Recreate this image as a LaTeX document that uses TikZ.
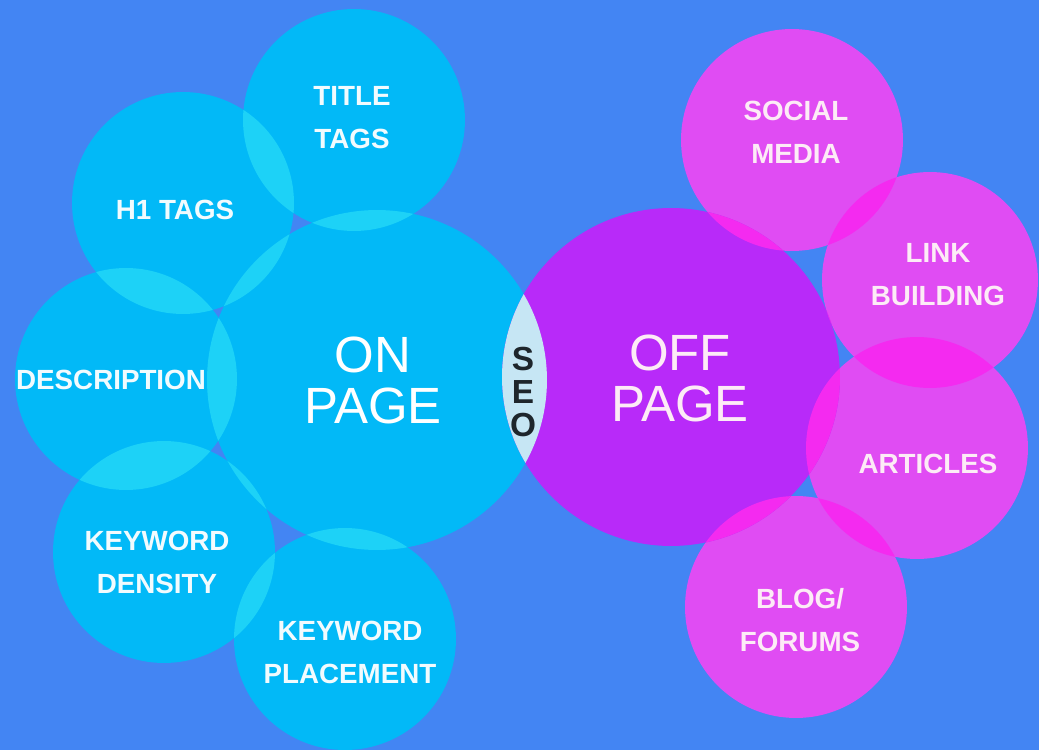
\documentclass[tikz,border=0pt]{standalone}
\usepackage{fontspec}
\setmainfont{Liberation Sans}
\definecolor{bgblue}{HTML}{4385F3}
\definecolor{oncyan}{HTML}{02B9F7}
\definecolor{onlens}{HTML}{1DD2F7}
\definecolor{seolens}{HTML}{C6E6F4}
\definecolor{offviolet}{HTML}{B82AF9}
\definecolor{offpink}{HTML}{E04CF3}
\definecolor{offlens}{HTML}{F42AF0}
\definecolor{seotext}{HTML}{1E262C}

\begin{document}
\begin{tikzpicture}[x=0.02cm, y=-0.02cm,
    tag/.style = {align=center, inner sep=0mm, text=white!95!cyan, font=\bfseries\fontsize{15.8}{24.5}\selectfont},
    offtag/.style = {tag, text=white!92!magenta},
    side/.style = {align=center, inner sep=0mm, text=white, font=\fontsize{29}{29}\selectfont}]
\useasboundingbox (0,0) rectangle (1039,750);
\fill[bgblue] (0,0) rectangle (1039,750);

% bubble centres
\foreach \n/\x/\y in {ttl/354/120, hone/183/203, desc/126/379, kden/164/552, kplc/345/639, onp/377/380}
    \coordinate (\n) at (\x,\y);
\foreach \n/\x/\y in {soc/792/140, link/930/280, art/917/448, blog/796/607, offp/671/377}
    \coordinate (\n) at (\x,\y);

% on page side
\foreach \n in {ttl, hone, desc, kden, kplc}
    \fill[oncyan] (\n) circle [radius=2.22cm];
\fill[oncyan] (onp) circle [radius=3.4cm];
\foreach \a/\ra/\b/\rb in {ttl/2.22cm/hone/2.22cm, hone/2.22cm/desc/2.22cm, desc/2.22cm/kden/2.22cm, kden/2.22cm/kplc/2.22cm,
                           ttl/2.22cm/onp/3.4cm, hone/2.22cm/onp/3.4cm, desc/2.22cm/onp/3.4cm, kden/2.22cm/onp/3.4cm, kplc/2.22cm/onp/3.4cm}
{
    \begin{scope}
        \clip (\a) circle [radius=\ra];
        \fill[onlens] (\b) circle [radius=\rb];
    \end{scope}
}

% off page side
\foreach \n in {soc, art, blog}
    \fill[offpink] (\n) circle [radius=2.22cm];
\fill[offpink] (link) circle [radius=2.16cm];
\fill[offviolet] (offp) circle [radius=3.38cm];
\foreach \a/\ra/\b/\rb in {soc/2.22cm/link/2.16cm, link/2.16cm/art/2.22cm, art/2.22cm/blog/2.22cm,
                           soc/2.22cm/offp/3.38cm, link/2.16cm/offp/3.38cm, art/2.22cm/offp/3.38cm, blog/2.22cm/offp/3.38cm}
{
    \begin{scope}
        \clip (\a) circle [radius=\ra];
        \fill[offlens] (\b) circle [radius=\rb];
    \end{scope}
}

% where the two sides meet
\begin{scope}
    \clip (onp) circle [radius=3.4cm];
    \fill[seolens] (offp) circle [radius=3.38cm];
\end{scope}

% labels
\node[tag] (ttltext) at (352,118) {TITLE\\TAGS};
\node[tag] (honetext) at (175,210) {H1 TAGS};
\node[tag] (desctext) at (111,380) {DESCRIPTION};
\node[tag] (kdentext) at (157,562) {KEYWORD\\DENSITY};
\node[tag] (kplctext) at (350,652) {KEYWORD\\PLACEMENT};
\node[side] (onptext) at (373,380) {ON\\PAGE};

\node[offtag] (soctext) at (796,132) {SOCIAL\\MEDIA};
\node[offtag] (linktext) at (938,275) {LINK\\BUILDING};
\node[offtag] (arttext) at (928,464) {ARTICLES};
\node[offtag] (blogtext) at (800,620) {BLOG/\\FORUMS};
\node[side, text=white!92!magenta] (offptext) at (680,378) {OFF\\PAGE};

\node[align=center, inner sep=0mm, text=seotext, font=\bfseries\fontsize{19}{18.8}\selectfont] (seo) at (523,392) {S\\E\\O};
\end{tikzpicture}
\end{document}
